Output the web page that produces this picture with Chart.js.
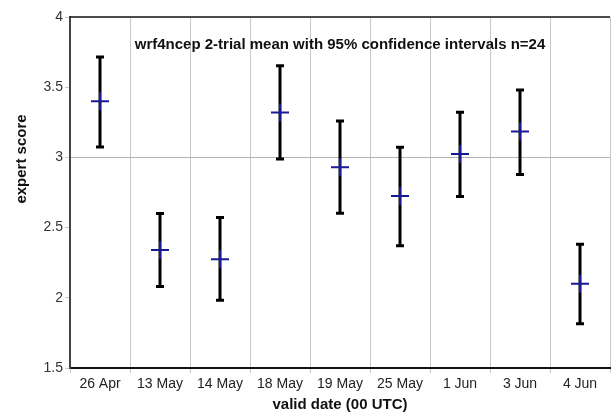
<!DOCTYPE html>
<html>
<head>
<meta charset="utf-8">
<script src="https://cdn.jsdelivr.net/npm/chart.js@4"></script>
<style>
  html, body { margin: 0; padding: 0; background: #fff; }
  #wrap { width: 611px; height: 412px; }
</style>
</head>
<body>
<div id="wrap"><canvas id="chart"></canvas></div>
<script>
const dates = ['26 Apr','13 May','14 May','18 May','19 May','25 May','1 Jun','3 Jun','4 Jun'];
const means = [3.40, 2.34, 2.275, 3.32, 2.93, 2.725, 3.025, 3.185, 2.10];
const upper = [3.715, 2.60, 2.572, 3.653, 3.259, 3.073, 3.322, 3.48, 2.381];
const lower = [3.074, 2.08, 1.983, 2.989, 2.602, 2.371, 2.721, 2.879, 1.815];
const yTicks = [1.5, 2, 2.5, 3, 3.5, 4];

const FONT = "'Liberation Sans', Arial, sans-serif";

// error bars, top frame line, inner title and axis titles
const errorBars = {
  id: 'errorBars',
  beforeDatasetsDraw(chart) {
    const { ctx, scales: { x, y } } = chart;
    ctx.save();
    ctx.strokeStyle = '#000';
    ctx.lineWidth = 3;
    dates.forEach((d, i) => {
      const px = x.getPixelForValue(i);
      const top = y.getPixelForValue(upper[i]);
      const bot = y.getPixelForValue(lower[i]);
      ctx.beginPath();
      ctx.moveTo(px, top); ctx.lineTo(px, bot);
      ctx.moveTo(px - 4, top); ctx.lineTo(px + 4, top);
      ctx.moveTo(px - 4, bot); ctx.lineTo(px + 4, bot);
      ctx.stroke();
    });
    ctx.restore();
  },
  afterDraw(chart) {
    const { ctx, chartArea: a } = chart;
    ctx.save();
    ctx.strokeStyle = '#111';
    ctx.lineWidth = 1.5;
    ctx.beginPath();
    ctx.moveTo(a.left, a.top); ctx.lineTo(a.right, a.top);
    ctx.stroke();
    ctx.fillStyle = '#111';
    ctx.font = 'bold 15px ' + FONT;
    ctx.textAlign = 'center';
    ctx.textBaseline = 'middle';
    ctx.fillText('wrf4ncep 2-trial mean with 95% confidence intervals n=24', (a.left + a.right) / 2, a.top + 28);
    ctx.fillText('valid date (00 UTC)', 340, 405);
    ctx.translate(22, 159);
    ctx.rotate(-Math.PI / 2);
    ctx.fillText('expert score', 0, 0);
    ctx.restore();
  }
};

new Chart(document.getElementById('chart'), {
  type: 'line',
  data: {
    labels: dates,
    datasets: [{
      label: 'mean',
      data: means,
      showLine: false,
      pointStyle: 'cross',
      pointRadius: 9,
      pointBorderWidth: 2,
      pointBorderColor: '#1a1a99',
      pointBackgroundColor: '#1a1a99'
    }]
  },
  options: {
    responsive: true,
    maintainAspectRatio: false,
    animation: false,
    layout: { autoPadding: false, padding: { top: 17, right: 1, left: 0, bottom: 0 } },
    plugins: { legend: { display: false }, tooltip: { enabled: false } },
    scales: {
      x: {
        offset: true,
        grid: { offset: true, color: '#c8c8c8', lineWidth: 1, tickLength: 5 },
        border: { color: '#111', width: 2 },
        ticks: { color: '#222', font: { family: FONT, size: 14 }, padding: 3, maxRotation: 0 },
        afterFit: s => { s.height = 44; s.paddingLeft = 0; s.paddingRight = 0; }
      },
      y: {
        min: 1.5, max: 4,
        afterBuildTicks: s => { s.ticks = yTicks.map(v => ({ value: v })); },
        grid: {
          color: c => (c.tick && c.tick.value === 3) ? '#b4b4b4' : 'rgba(0,0,0,0)',
          tickColor: '#cccccc',
          tickLength: 5
        },
        border: { color: '#444', width: 2 },
        ticks: { color: '#333', font: { family: FONT, size: 14 }, padding: 2, callback: v => String(v) },
        afterFit: s => { s.width = 70; }
      }
    }
  },
  plugins: [errorBars]
});
</script>
</body>
</html>
